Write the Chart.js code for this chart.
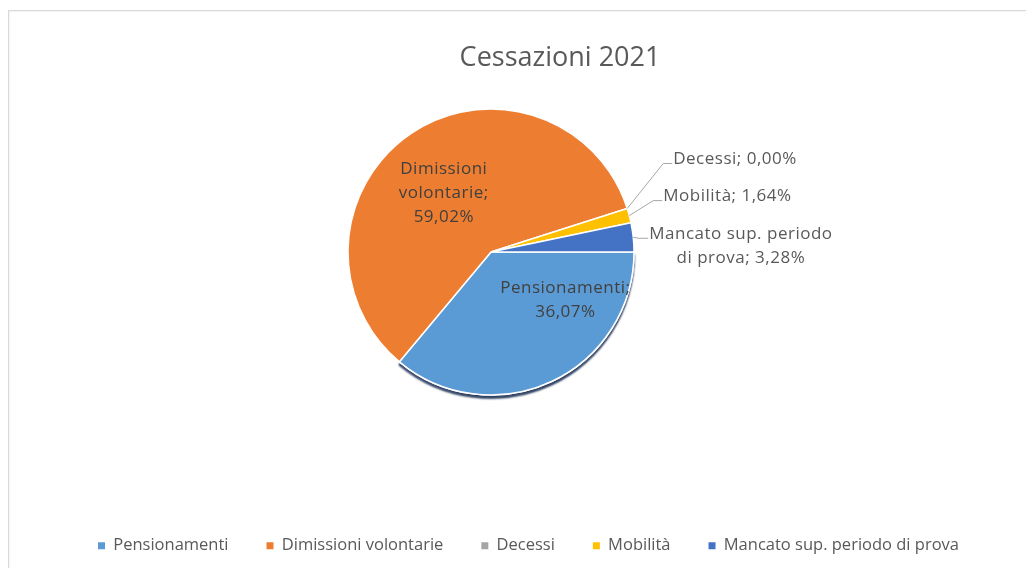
<!DOCTYPE html>
<html lang="it">
<head>
<meta charset="utf-8">
<title>Cessazioni 2021</title>
<script src="https://cdn.jsdelivr.net/npm/chart.js@4.4.1/dist/chart.umd.min.js"></script>
<style>
  html, body { margin: 0; padding: 0; background: #fff; }
  body { width: 1026px; height: 568px; position: relative; overflow: hidden; }
  .frame {
    position: absolute; left: 8px; top: 10px; width: 1100px; height: 620px;
    border-left: 1px solid #d9d9d9; border-top: 1px solid #d9d9d9;
    box-shadow: inset 1px 1px 2px rgba(0, 0, 0, 0.05);
  }
  #wrap { position: absolute; left: 0; top: 0; width: 1026px; height: 568px; }
</style>
</head>
<body>
<div class="frame"></div>
<div id="wrap"><canvas id="chart"></canvas></div>
<script>
const TITLE = "Cessazioni 2021";
const CATEGORIES = ["Pensionamenti", "Dimissioni volontarie", "Decessi", "Mobilità", "Mancato sup. periodo di prova"];
const COUNTS = [22, 36, 0, 1, 2];
const COLORS = ["#5b9bd5", "#ed7d31", "#a5a5a5", "#ffc000", "#4472c4"];

const FONT = "'Open Sans', 'Noto Sans', sans-serif";

// where each data label sits: inside ones as a fraction of the radius from the centre,
// outside ones as a pixel offset from the slice edge to the leader elbow
const LABEL_PLACEMENT = [
  { inside: true, dx: 0.52, dy: 0.34, wrap: 150 },
  { inside: true, dx: -0.33, dy: -0.41, wrap: 110 },
  { inside: false, dx: 36, dy: -45, wrap: 300 },
  { inside: false, dx: 24, dy: -15, wrap: 300 },
  { inside: false, dx: 6, dy: 1, wrap: 190 },
];

function pctText(i) {
  const total = COUNTS.reduce((a, b) => a + b, 0);
  return (COUNTS[i] / total * 100).toFixed(2).replace(".", ",") + "%";
}

function wrapLines(ctx, text, maxWidth) {
  const lines = [];
  let line = "";
  text.split(" ").forEach((w) => {
    const test = line ? line + " " + w : w;
    if (line && ctx.measureText(test).width > maxWidth) {
      lines.push(line);
      line = w;
    } else {
      line = test;
    }
  });
  if (line) lines.push(line);
  return lines;
}

// puts the pie centre where the reference has it, independent of title/legend centring
const pieCenter = {
  id: "pieCenter",
  afterLayout(chart, args, opts) {
    const a = chart.chartArea;
    const w = a.right - a.left;
    const h = a.bottom - a.top;
    a.left = opts.x - w / 2;
    a.right = opts.x + w / 2;
    a.top = opts.y - h / 2;
    a.bottom = opts.y + h / 2;
  },
};

// Excel-like drop shadow under the first slice only
const sliceShadow = {
  id: "sliceShadow",
  beforeDatasetsDraw(chart) {
    const arc = chart.getDatasetMeta(0).data[0];
    if (!arc) return;
    const ctx = chart.ctx;
    ctx.save();
    ctx.shadowColor = "rgba(28, 48, 84, 0.95)";
    ctx.shadowBlur = 2;
    ctx.shadowOffsetY = 3;
    arc.draw(ctx);
    ctx.restore();
  },
};

const sliceLabels = {
  id: "sliceLabels",
  afterDatasetsDraw(chart) {
    const ctx = chart.ctx;
    const meta = chart.getDatasetMeta(0);
    ctx.save();
    ctx.font = "17px " + FONT;
    ctx.letterSpacing = "0.5px";
    ctx.textBaseline = "middle";
    ctx.textAlign = "center";
    meta.data.forEach((arc, i) => {
      const p = LABEL_PLACEMENT[i];
      const { x, y, startAngle, endAngle, outerRadius } = arc.getProps(["x", "y", "startAngle", "endAngle", "outerRadius"], true);
      const lines = wrapLines(ctx, CATEGORIES[i] + "; " + pctText(i), p.wrap);
      const lh = 24;
      if (p.inside) {
        const cx = x + p.dx * outerRadius;
        const cy = y + p.dy * outerRadius;
        ctx.fillStyle = "#404040";
        lines.forEach((ln, k) => {
          ctx.fillText(ln, cx, cy + (k - (lines.length - 1) / 2) * lh);
        });
      } else {
        const mid = (startAngle + endAngle) / 2;
        const ex = x + Math.cos(mid) * outerRadius;
        const ey = y + Math.sin(mid) * outerRadius;
        const ax = ex + p.dx;
        const ay = ey + p.dy;
        ctx.strokeStyle = "#a6a6a6";
        ctx.lineWidth = 1;
        ctx.beginPath();
        ctx.moveTo(ex, ey);
        ctx.lineTo(ax, ay);
        ctx.lineTo(ax + 9, ay);
        ctx.stroke();
        const blockW = Math.max(...lines.map((ln) => ctx.measureText(ln).width));
        const left = ax + 10;
        ctx.fillStyle = "#595959";
        lines.forEach((ln, k) => {
          ctx.fillText(ln, left + blockW / 2, ay - 4 + k * lh);
        });
      }
    });
    ctx.restore();
  },
};

new Chart(document.getElementById("chart"), {
  type: "pie",
  data: {
    labels: CATEGORIES,
    datasets: [{
      data: COUNTS,
      backgroundColor: COLORS,
      borderColor: "#ffffff",
      borderWidth: 1.5,
    }],
  },
  options: {
    responsive: true,
    maintainAspectRatio: false,
    animation: false,
    rotation: 90,
    radius: 143,
    layout: { padding: { left: 60, right: -34, top: 0, bottom: 4 } },
    plugins: {
      pieCenter: { x: 491, y: 252 },
      tooltip: { enabled: false },
      title: {
        display: true,
        text: TITLE,
        color: "#595959",
        font: { family: FONT, size: 27, weight: "normal" },
        padding: { top: 42, bottom: 10 },
      },
      legend: {
        position: "bottom",
        align: "start",
        labels: {
          boxWidth: 7,
          boxHeight: 7,
          padding: 38,
          color: "#595959",
          font: { family: FONT, size: 16.5 },
          generateLabels: (chart) =>
            Chart.overrides.pie.plugins.legend.labels.generateLabels(chart).map((it) =>
              Object.assign(it, { lineWidth: 0, strokeStyle: "rgba(0,0,0,0)" })
            ),
        },
      },
    },
  },
  plugins: [pieCenter, sliceShadow, sliceLabels],
});
</script>
</body>
</html>
